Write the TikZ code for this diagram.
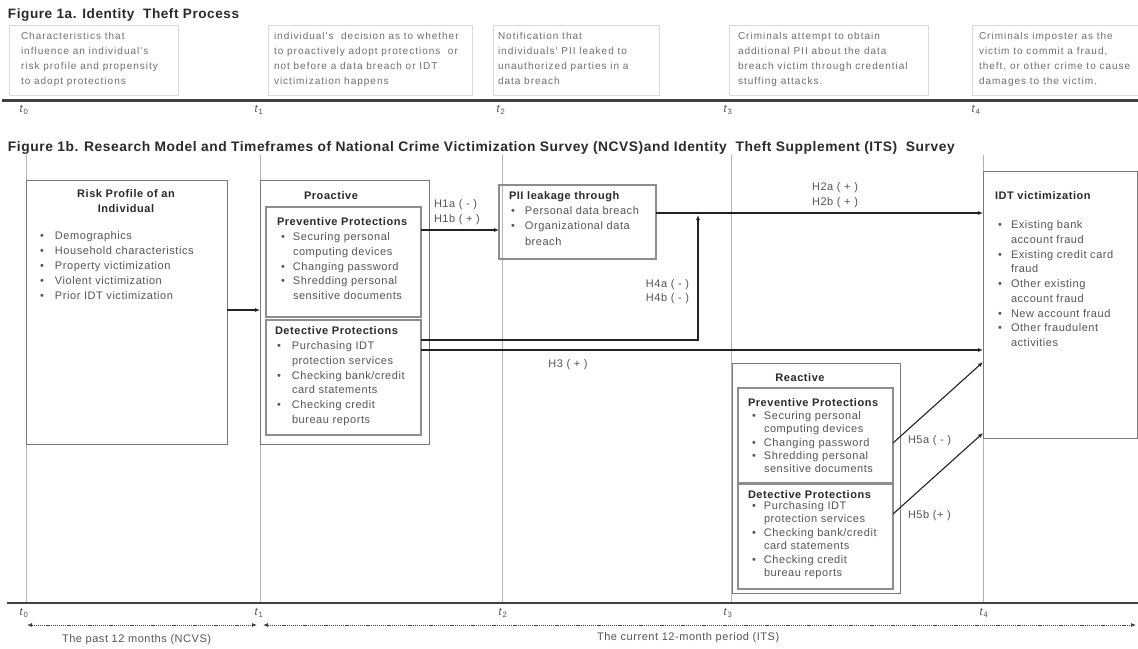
\documentclass[tikz,border=0pt]{standalone}
\usepackage{fontspec}
\setmainfont{Liberation Sans}[LetterSpace=5]
\newfontfamily\smallf{Liberation Sans}[LetterSpace=10]
\newfontfamily\titlef{Liberation Sans}[LetterSpace=4]
\usetikzlibrary{arrows.meta,calc}
\definecolor{txt}{HTML}{555555}
\definecolor{hdr}{HTML}{2A2A2A}
\definecolor{brd}{HTML}{7A7A7A}
\definecolor{ln}{HTML}{222222}
\definecolor{vl}{HTML}{B4B4B4}
\definecolor{fbx}{HTML}{DADADA}
\definecolor{tl}{HTML}{404040}
\newcommand\bl[1]{\makebox[#1pt][l]{\textbullet}}
\newcommand\ct[1]{\hspace*{#1pt}}
\newcommand\tlab[1]{\textit{t}\textsubscript{#1}}
\newcommand\hd[1]{\textcolor{hdr}{\bfseries #1}}
\begin{document}
\begin{tikzpicture}[x=1pt,y=-1pt,
  every node/.style={inner sep=0pt,outer sep=0pt},
  bx/.style={draw=brd,line width=0.8pt,rectangle,anchor=north west},
  ibx/.style={draw=brd!85,line width=1.4pt,rectangle,anchor=north west},
  fb/.style={draw=fbx,line width=0.5pt,rectangle,anchor=north west},
  blk/.style={anchor=north west,align=left,text=txt,font=\fontsize{11}{#1}\selectfont,execute at begin node=\strut,yshift={0.7*#1pt}},
  sblk/.style={anchor=north west,align=left,text=txt!85,font=\smallf\fontsize{10}{15.3}\selectfont,execute at begin node=\strut,yshift={0.7*15.3pt}},
  hlab/.style={anchor=base west,text=hdr,font=\bfseries\fontsize{11}{13}\selectfont},
  lab/.style={text=txt,font=\fontsize{11}{13}\selectfont},
  tlb/.style={anchor=center,text=txt,font=\fontsize{11}{13}\selectfont},
  ttl/.style={anchor=base west,text=hdr,font=\fontsize{13.6}{16}\selectfont\titlef\bfseries},
  arr/.style={draw=ln,line width=1.1pt,-{Latex[length=5pt,width=4pt]}},
  darr/.style={draw=tl,line width=0.8pt,dash pattern=on 1.2pt off 0.9pt,{Latex[length=5pt,width=4pt]}-{Latex[length=5pt,width=4pt]}},
  vline/.style={draw=vl,line width=0.5pt},
  tline/.style={draw=tl,line width=2.2pt}
]
\fill[white] (0,0) rectangle (1138,648);
\useasboundingbox (0,0) rectangle (1138,648);

% ---------- Figure 1a ----------
\node[ttl] (t1a) at (8,18) {Figure 1a. Identity\ \ Theft Process};
\node[fb,minimum width=169,minimum height=70] (f1) at (9,25) {};
\node[fb,minimum width=204,minimum height=70] (f2) at (268,25) {};
\node[fb,minimum width=166,minimum height=70] (f3) at (493,25) {};
\node[fb,minimum width=199,minimum height=70] (f4) at (729,25) {};
\node[fb,minimum width=166,minimum height=70] (f5) at (972,25) {};
\node[sblk] (s1) at (21,42.5) {Characteristics that\\influence an individual's\\risk profile and propensity\\to adopt protections};
\node[sblk] (s2) at (274,42.5) {individual's\ \ decision as to whether\\to proactively adopt protections\ \ or\\not before a data breach or IDT\\victimization happens};
\node[sblk] (s3) at (498,42.5) {Notification that\\individuals' PII leaked to\\unauthorized parties in a\\data breach};
\node[sblk] (s4) at (738,42.5) {Criminals attempt to obtain\\additional PII about the data\\breach victim through credential\\stuffing attacks.};
\node[sblk] (s5) at (979,42.5) {Criminals imposter as the\\victim to commit a fraud,\\theft, or other crime to cause\\damages to the victim.};
\draw[tline] (2,100.5) -- (1138,100.5);
\node[tlb] (u0) at (24,110) {\tlab{0}};
\node[tlb] (u1) at (259,110) {\tlab{1}};
\node[tlb] (u2) at (501,110) {\tlab{2}};
\node[tlb] (u3) at (728,110) {\tlab{3}};
\node[tlb] (u4) at (976,110) {\tlab{4}};

% ---------- Figure 1b ----------
\node[ttl,font=\fontsize{13.8}{16}\selectfont\titlef\bfseries] (t1b) at (8,151) {Figure 1b. Research Model and Timeframes of National Crime Victimization Survey (NCVS)and Identity\ \ Theft Supplement (ITS)\ \ Survey};
\foreach \xx in {26,260,502,731,983} \draw[vline] (\xx,155) -- (\xx,603);

\node[bx,minimum width=201,minimum height=264] (risk) at (26,180) {};
\node[bx,minimum width=169,minimum height=264] (pro) at (260,180) {};
\node[ibx,minimum width=155,minimum height=110] (prev1) at (266,207) {};
\node[ibx,minimum width=155,minimum height=115] (det1) at (266,320) {};
\node[ibx,minimum width=157,minimum height=74] (pii) at (499,185) {};
\node[bx,minimum width=154,minimum height=267] (idt) at (983,171) {};
\node[bx,minimum width=168,minimum height=230] (rea) at (732,363) {};
\node[ibx,minimum width=155,minimum height=95] (prev2) at (738,388) {};
\node[ibx,minimum width=155,minimum height=105] (det2) at (738,484) {};

% risk profile
\node[anchor=north,align=center,text=hdr,font=\bfseries\fontsize{11}{15}\selectfont,execute at begin node=\strut,yshift={10.5pt}] (rt) at (126,200) {Risk Profile of an\\Individual};
\node[blk=15] (rb) at (40,242) {\bl{15}Demographics\\\bl{15}Household characteristics\\\bl{15}Property victimization\\\bl{15}Violent victimization\\\bl{15}Prior IDT victimization};

% proactive
\node[anchor=base,text=hdr,font=\bfseries\fontsize{11}{13}\selectfont] (proh) at (331,199) {Proactive};
\node[blk=14.8] (pb1) at (277,228) {\hd{Preventive Protections}\\\ct{4}\bl{12}Securing personal\\\ct{16}computing devices\\\ct{4}\bl{12}Changing password\\\ct{4}\bl{12}Shredding personal\\\ct{16}sensitive documents};
\node[blk=14.8] (pb2) at (275,337) {\hd{Detective Protections}\\\ct{2}\bl{15}Purchasing IDT\\\ct{17}protection services\\\ct{2}\bl{15}Checking bank/credit\\\ct{17}card statements\\\ct{2}\bl{15}Checking credit\\\ct{17}bureau reports};

% PII
\node[blk=15.3] (pt) at (509,202) {\hd{PII leakage through}\\\ct{2}\bl{14}Personal data breach\\\ct{2}\bl{14}Organizational data\\\ct{16}breach};

% IDT
\node[hlab] (it) at (995,199) {IDT victimization};
\node[blk=14.75] (ib) at (998,231) {\bl{13}Existing bank\\\ct{13}account fraud\\\bl{13}Existing credit card\\\ct{13}fraud\\\bl{13}Other existing\\\ct{13}account fraud\\\bl{13}New account fraud\\\bl{13}Other fraudulent\\\ct{13}activities};

% reactive
\node[anchor=base,text=hdr,font=\bfseries\fontsize{11}{13}\selectfont] (reh) at (800,381) {Reactive};
\node[hlab] (rh1) at (748,406) {Preventive Protections};
\node[blk=13.25] (rl1) at (752,421) {\bl{12}Securing personal\\\ct{12}computing devices\\\bl{12}Changing password\\\bl{12}Shredding personal\\\ct{12}sensitive documents};
\node[hlab] (rh2) at (748,498) {Detective Protections};
\node[blk=13.4] (rl2) at (752,511) {\bl{12}Purchasing IDT\\\ct{12}protection services\\\bl{12}Checking bank/credit\\\ct{12}card statements\\\bl{12}Checking credit\\\ct{12}bureau reports};

% connectors
\coordinate (y310) at (0,310);
\coordinate (y230) at (0,230);
\coordinate (y213) at (0,213);
\coordinate (y340) at (0,340);
\coordinate (y350) at (0,350);
\coordinate (y443) at (0,443);
\coordinate (y362) at (0,362);
\coordinate (y514) at (0,514);
\coordinate (y433) at (0,433);
\coordinate (h4end) at (698,215);
\draw[arr] (risk.east |- y310) -- (pro.west |- y310);
\draw[arr] (prev1.east |- y230) -- (pii.west |- y230);
\draw[arr] (pii.east |- y213) -- (idt.west |- y213);
\draw[arr] (det1.east |- y340) -| (h4end);
\draw[arr] (det1.east |- y350) -- (idt.west |- y350);
\draw[arr] (prev2.east |- y443) -- (idt.west |- y362);
\draw[arr] (det2.east |- y514) -- (idt.west |- y433);

% hypothesis labels
\node[lab,anchor=base west] (h1a) at (434,207) {H1a ( - )};
\node[lab,anchor=base west] (h1b) at (434,222) {H1b ( + )};
\node[lab,anchor=base] (h2a) at (835,190) {H2a ( + )};
\node[lab,anchor=base] (h2b) at (835,205) {H2b ( + )};
\node[lab,anchor=base east] (h4a) at (689,287) {H4a ( - )};
\node[lab,anchor=base east] (h4b) at (689,301) {H4b ( - )};
\node[lab,anchor=base] (h3) at (568,367) {H3 ( + )};
\node[lab,anchor=base west] (h5a) at (908,443) {H5a ( - )};
\node[lab,anchor=base west] (h5b) at (908,518) {H5b (+ )};

% bottom timeline
\draw[tline] (7,603) -- (1138,603);
\node[tlb] (v0) at (24,613) {\tlab{0}};
\node[tlb] (v1) at (259,613) {\tlab{1}};
\node[tlb] (v2) at (503,613) {\tlab{2}};
\node[tlb] (v3) at (728,613) {\tlab{3}};
\node[tlb] (v4) at (984,613) {\tlab{4}};
\coordinate (a0) at (27,625);
\coordinate (a1) at (257,625);
\coordinate (a2) at (263,625);
\coordinate (a3) at (1136,625);
\draw[darr] (a0) -- (a1);
\draw[darr] (a2) -- (a3);
\node[lab,anchor=base west] (p1) at (62,642) {The past 12 months (NCVS)};
\node[lab,anchor=base west] (p2) at (597,640) {The current 12-month period (ITS)};
\end{tikzpicture}
\end{document}
